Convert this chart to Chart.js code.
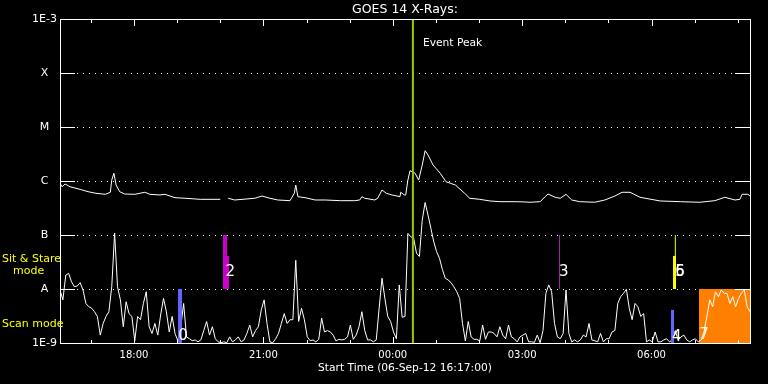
<!DOCTYPE html>
<html>
<head>
<meta charset="utf-8">
<script src="https://cdn.jsdelivr.net/npm/chart.js@4/dist/chart.umd.min.js"></script>
<style>
html,body{margin:0;padding:0;background:#000;overflow:hidden}
canvas{display:block}
</style>
</head>
<body>
<canvas id="c" width="768" height="384"></canvas>
<script>
// ---------- text ----------
const chartTitle = 'GOES 14 X-Rays:';
const xAxisTitle = 'Start Time (06-Sep-12 16:17:00)';
const peakLabel = 'Event Peak';

// ---------- axes ----------
const totalMinutes = 960;                 // 16:17 -> 08:17
const xTickMinutes = [103, 283, 463, 643, 823];
const xTickLabels = ['18:00', '21:00', '00:00', '03:00', '06:00'];
const firstHourMinute = 43;               // 17:00
const yTickValues = [1e-9, 1e-8, 1e-7, 1e-6, 1e-5, 1e-4, 1e-3];
const yTickLabels = ['1E-9', 'A', 'B', 'C', 'M', 'X', '1E-3'];

// ---------- long channel (1-8 A) ----------
const longMinutes = [0,3,7,14,28,39,50,63,70,72,75,78,83,90,104,118,125,139,146,160,174,195,223,228,234,243,271,281,292,303,320,326,328,331,341,355,369,390,410,417,420,424,438,442,448,454,462,473,474,479,481,484,487,490,494,499,504,508,512,519,529,537,550,563,570,584,598,612,633,647,654,668,675,679,689,696,704,712,723,744,758,772,782,793,807,835,863,890,911,925,939,946,949,957,960];
const longFlux = [9.06e-7,7.83e-7,8.8e-7,7.83e-7,7.0e-7,6.34e-7,5.92e-7,5.67e-7,6.18e-7,1.04e-6,1.39e-6,8.43e-7,6.34e-7,5.74e-7,5.67e-7,6.18e-7,5.67e-7,5.51e-7,5.67e-7,4.91e-7,4.79e-7,4.58e-7,4.58e-7,null,4.79e-7,4.45e-7,4.79e-7,5.27e-7,4.79e-7,4.45e-7,4.32e-7,5.92e-7,8.43e-7,5.12e-7,4.91e-7,4.45e-7,4.45e-7,4.32e-7,4.32e-7,4.45e-7,5.12e-7,4.79e-7,4.45e-7,4.79e-7,6.81e-7,5.92e-7,5.51e-7,5.12e-7,6.18e-7,5.51e-7,5.51e-7,1.04e-6,1.55e-6,1.49e-6,1.39e-6,1.04e-6,1.98e-6,3.64e-6,3.03e-6,1.98e-6,1.39e-6,9.7e-7,8.43e-7,5.92e-7,4.79e-7,4.58e-7,4.27e-7,4.14e-7,4.14e-7,4.09e-7,4.04e-7,4.14e-7,5.12e-7,5.74e-7,4.99e-7,4.79e-7,5.67e-7,4.45e-7,4.14e-7,4.04e-7,4.45e-7,5.27e-7,6.18e-7,6.18e-7,4.99e-7,4.27e-7,4.14e-7,4.04e-7,4.32e-7,4.99e-7,4.45e-7,4.58e-7,5.67e-7,5.67e-7,5.27e-7];

// ---------- short channel (0.5-4 A), one sample every 4 minutes ----------
const shortStepMinutes = 4;
const shortFlux = [
9.6e-9,6.3e-9,1.8e-8,1.95e-8,1.36e-8,1.1e-8,1.14e-8,1.31e-8,9.6e-9,5.4e-9,
4.7e-9,4.4e-9,3.8e-9,3.1e-9,1.4e-9,2.3e-9,3.1e-9,3.8e-9,1.1e-8,1.09e-7,
1.1e-8,6.3e-9,2.0e-9,5.8e-9,3.5e-9,3.1e-9,1.1e-9,3.1e-9,2.7e-9,5.4e-9,
8.9e-9,2.0e-9,1.5e-9,2.3e-9,1.4e-9,3.3e-9,6.7e-9,3.8e-9,1.6e-9,3.1e-9,
1.5e-9,1.1e-9,2.0e-9,5.4e-9,1.3e-9,1.2e-9,1.1e-9,1.14e-9,1.05e-9,1.14e-9,
1.7e-9,2.5e-9,1.4e-9,2.0e-9,1.2e-9,1.05e-9,1.01e-9,1.05e-9,1.01e-9,1.3e-9,
1.05e-9,1.14e-9,1.3e-9,1.05e-9,1.14e-9,1.5e-9,2.15e-9,1.3e-9,1.7e-9,2.0e-9,
4.1e-9,6.3e-9,2.3e-9,1.05e-9,1.01e-9,1.2e-9,1.5e-9,2.3e-9,3.5e-9,2.3e-9,
2.7e-9,2.7e-9,3.4e-8,2.5e-9,4.4e-9,2.7e-9,1.3e-9,1.1e-9,1.14e-9,1.05e-9,
1.17e-9,2.9e-9,1.6e-9,1.7e-9,1.6e-9,1.4e-9,1.09e-9,1.17e-9,1.14e-9,1.17e-9,
1.3e-9,2.15e-9,1.17e-9,1.4e-9,2.0e-9,3.8e-9,1.7e-9,1.14e-9,1.14e-9,1.05e-9,
1.14e-9,4.4e-9,1.58e-8,6.7e-9,3.1e-9,2.5e-9,1.6e-9,1.2e-9,1.19e-8,3.0e-9,
3.1e-9,1.07e-7,9.3e-8,8.7e-8,4.6e-8,4.0e-8,1.9e-7,4.0e-7,2.34e-7,1.33e-7,
7.5e-8,4.9e-8,3.7e-8,2.3e-8,1.58e-8,1.47e-8,1.31e-8,1.1e-8,8.9e-9,6.7e-9,
2.3e-9,1.09e-9,2.5e-9,1.3e-9,1.17e-9,1.17e-9,1.09e-9,2.15e-9,1.17e-9,1.6e-9,
1.6e-9,1.5e-9,1.3e-9,2.0e-9,1.4e-9,1.2e-9,2.15e-9,1.3e-9,1.2e-9,1.05e-9,
1.3e-9,1.4e-9,1.5e-9,1.05e-9,1.05e-9,1.03e-9,1.4e-9,1.01e-9,1.7e-9,8.3e-9,
1.19e-8,8.9e-9,2.3e-9,1.3e-9,1.2e-9,1.5e-9,9.6e-9,1.5e-9,1.05e-9,1.14e-9,
1.05e-9,1.14e-9,1.4e-9,1.3e-9,2.3e-9,1.14e-9,1.1e-9,1.05e-9,1.5e-9,1.05e-9,
1.2e-9,1.2e-9,1.6e-9,1.7e-9,5.4e-9,7.2e-9,8.3e-9,9.9e-9,4.4e-9,2.7e-9,
5.4e-9,4.7e-9,3.1e-9,3.5e-9,1.05e-9,1.14e-9,1.05e-9,1.6e-9,1.05e-9,1.05e-9,
1.14e-9,1.2e-9,1.05e-9,1.14e-9,1.7e-9,1.14e-9,1.3e-9,1.4e-9,1.14e-9,1.05e-9,
1.14e-9,1.2e-9,1.05e-9,1.14e-9,1.6e-9,3.1e-9,6.3e-9,4.7e-9,8.9e-9,7.2e-9,
9.6e-9,8.3e-9,8.3e-9,5.4e-9,7.2e-9,4.7e-9,6.7e-9,8.3e-9,9.6e-9,4.7e-9,3.8e-9];

// ---------- event markers ----------
const peakMinute = 491;
const markerMinutes = [167, 229.6, 231, 695, 852.2, 855, 856.1];
const markerLow     = [1e-9, 4.1e-8, 1e-8, 1e-8, 1e-9, 1e-8, 1e-8];
const markerHigh    = [1e-8, 1e-7, 4.1e-8, 1e-7, 4.1e-9, 4.1e-8, 1e-7];
const markerColors  = ['#6464ff', '#cc00cc', '#cc00cc', '#b020b0', '#6464ff', '#ffff00', '#ffff00'];
const markerWidths  = [4, 4, 6, 1, 3, 3, 1];
const scanBoxStart = 889, scanBoxEnd = 960, scanBoxTop = 1e-8;

// labels next to the markers: text, minute, flux
const markerLabelText   = ['0', '2', '3', '4', '5', '6', '7'];
const markerLabelMinute = [171, 237, 701, 858, 862.5, 862.5, 896];
const markerLabelFlux   = [1.35e-9, 2.07e-8, 2.07e-8, 1.3e-9, 2.07e-8, 2.07e-8, 1.4e-9];

const FONT = "'DejaVu Sans', sans-serif";

const shortPoints = shortFlux.map((v, i) => ({x: i * shortStepMinutes, y: v}));
const longPoints = longMinutes.map((m, i) => ({x: m, y: longFlux[i]}));

const markerSets = markerMinutes.map((m, i) => ({
  data: [{x: m, y: markerLow[i]}, {x: m, y: markerHigh[i]}],
  borderColor: markerColors[i], borderWidth: markerWidths[i],
  borderCapStyle: 'butt', pointRadius: 0, order: 1, fill: false
}));

const datasets = [
  { data: [{x: peakMinute, y: 1e-9}, {x: peakMinute, y: 1e-3}], borderColor: '#99cc00',
    borderWidth: 2, borderCapStyle: 'butt', pointRadius: 0, order: 0, fill: false },
  ...markerSets,
  { data: longPoints, borderColor: '#ffffff', borderWidth: 1, pointRadius: 0, order: 2, fill: false, spanGaps: false },
  { data: shortPoints, borderColor: '#ffffff', borderWidth: 1, pointRadius: 0, order: 2, fill: false },
  { data: [{x: scanBoxStart, y: scanBoxTop}, {x: scanBoxEnd, y: scanBoxTop}], borderWidth: 0,
    borderColor: 'rgba(0,0,0,0)', backgroundColor: '#ff8000', fill: 'start', pointRadius: 0, order: 5 }
];

const decor = {
  id: 'decor',
  beforeDraw(chart) {
    const ctx = chart.ctx;
    ctx.save(); ctx.fillStyle = '#000'; ctx.fillRect(0, 0, chart.width, chart.height); ctx.restore();
  },
  beforeDatasetsDraw(chart) {
    const {ctx, chartArea: a, scales: {y}} = chart;
    ctx.save(); ctx.fillStyle = '#fff';
    yTickValues.forEach(v => {
      const py = Math.round(y.getPixelForValue(v));
      if (py > a.top + 1 && py < a.bottom - 1) {
        for (let px = a.left + 17; px < a.right - 15; px += 6) ctx.fillRect(px, py, 1, 1);
      }
    });
    ctx.restore();
  },
  afterDatasetsDraw(chart) {
    const {ctx, chartArea: a, scales: {x, y}} = chart;
    ctx.save();
    ctx.fillStyle = '#fff';
    ctx.strokeStyle = '#fff'; ctx.lineWidth = 1;
    ctx.strokeRect(a.left + 0.5, a.top + 0.5, a.right - a.left, a.bottom - a.top);
    yTickValues.forEach(v => {
      const py = Math.round(y.getPixelForValue(v));
      if (py > a.top + 1 && py < a.bottom - 1) {
        ctx.fillRect(a.left, py, 15, 1);
        ctx.fillRect(a.right - 15, py, 15, 1);
      }
    });
    for (let m = firstHourMinute; m < totalMinutes; m += 60) {
      const px = Math.round(x.getPixelForValue(m));
      const len = xTickMinutes.includes(m) ? 7 : 4;
      ctx.fillRect(px, a.top, 1, len);
      ctx.fillRect(px, a.bottom - len + 1, 1, len);
    }
    // marker labels
    ctx.font = '15px ' + FONT;
    ctx.textAlign = 'center'; ctx.textBaseline = 'middle';
    markerLabelText.forEach((t, i) => {
      ctx.fillText(t, x.getPixelForValue(markerLabelMinute[i]), y.getPixelForValue(markerLabelFlux[i]));
    });
    // event peak
    ctx.font = '10.7px ' + FONT;
    ctx.textAlign = 'left';
    ctx.fillText(peakLabel, x.getPixelForValue(peakMinute) + 10, a.top + 24);
    // titles
    ctx.textAlign = 'center';
    ctx.font = '12.5px ' + FONT;
    ctx.fillText(chartTitle, (a.left + a.right) / 2, 10);
    ctx.font = '10.7px ' + FONT;
    ctx.fillText(xAxisTitle, (a.left + a.right) / 2, 368);
    // mode labels
    ctx.fillStyle = '#ffff00';
    ctx.textAlign = 'left';
    ctx.font = '11px ' + FONT;
    ctx.fillText('Sit & Stare', 2, 259);
    ctx.fillText('mode', 13, 271.5);
    ctx.fillText('Scan mode', 2, 324);
    ctx.restore();
  }
};

new Chart(document.getElementById('c'), {
  type: 'line',
  data: { datasets },
  options: {
    responsive: false, animation: false, devicePixelRatio: 1,
    layout: { padding: { top: 19, right: 18, left: 0, bottom: 0 } },
    plugins: { legend: { display: false }, tooltip: { enabled: false }, title: { display: false } },
    elements: { line: { tension: 0 }, point: { radius: 0 } },
    scales: {
      x: {
        type: 'linear', min: 0, max: totalMinutes,
        grid: { display: false, drawTicks: false }, border: { display: false },
        afterFit(s) { s.height = 41; },
        afterBuildTicks(s) { s.ticks = xTickMinutes.map(v => ({value: v})); },
        ticks: {
          color: '#fff', font: { family: FONT, size: 10 }, padding: 6,
          maxRotation: 0, autoSkip: false,
          callback(v) { const i = xTickMinutes.indexOf(v); return i >= 0 ? xTickLabels[i] : ''; }
        }
      },
      y: {
        type: 'logarithmic', min: 1e-9, max: 1e-3,
        grid: { display: false, drawTicks: false }, border: { display: false },
        afterFit(s) { s.width = 60; },
        afterBuildTicks(s) { s.ticks = yTickValues.map(v => ({value: v})); },
        ticks: {
          color: '#fff', font: { family: FONT, size: 11 }, padding: 3, crossAlign: 'center',
          autoSkip: false,
          callback(v) {
            const i = yTickValues.findIndex(t => Math.abs(Math.log10(t) - Math.log10(v)) < 1e-6);
            return i >= 0 ? yTickLabels[i] : '';
          }
        }
      }
    }
  },
  plugins: [decor]
});
</script>
</body>
</html>
